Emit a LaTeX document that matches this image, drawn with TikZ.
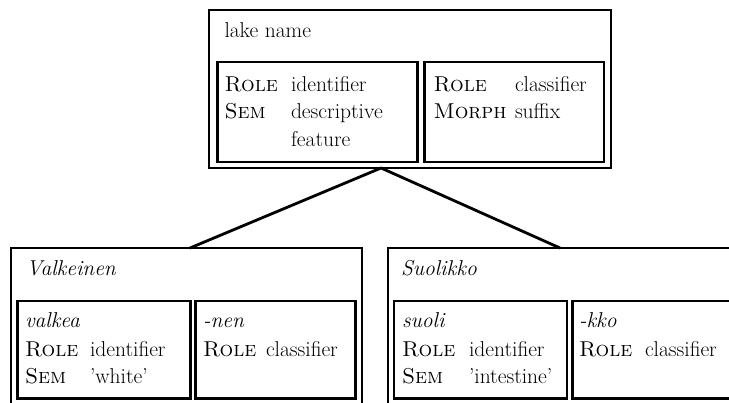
\documentclass[tikz,border=0pt]{standalone}
\usetikzlibrary{calc}
\tikzset{
  frame/.style={draw, line width=2.8pt, rectangle, inner sep=0pt, outer sep=0pt, anchor=north west},
  txt/.style={inner sep=0pt, outer sep=0pt, anchor=base west, font=\fontsize{21.5}{25}\selectfont},
  branch/.style={line width=2.8pt, line cap=round},
}
\begin{document}
\begin{tikzpicture}[x=1pt,y=-1pt]
\useasboundingbox (0,0) rectangle (729,403);
\clip (0,0) rectangle (729,403);

% mother node: lake name
\node[frame, minimum width=402pt, minimum height=158pt] (lake) at (209,10) {};
\node[frame, minimum width=200pt, minimum height=100pt] (lakeid) at (217.5,62) {};
\node[frame, minimum width=179.5pt, minimum height=100pt] (lakecl) at (424.5,62) {};
\node[txt] (t0) at (224.5,38) {lake name};
\node[txt] (t1) at (224.5,92) {\textsc{Role}};
\node[txt] (t2) at (291,92) {identifier};
\node[txt] (t3) at (224.5,119) {\textsc{Sem}};
\node[txt] (t4) at (291,119) {descriptive};
\node[txt] (t5) at (291,146.5) {feature};
\node[txt] (t6) at (433.5,92) {\textsc{Role}};
\node[txt] (t7) at (515,92) {classifier};
\node[txt] (t8) at (433.5,119) {\textsc{Morph}};
\node[txt] (t9) at (515,119) {suffix};

% daughter: Valkeinen (runs on below the page)
\node[frame, minimum width=351pt, minimum height=200pt] (valk) at (11,248) {};
\node[frame, minimum width=173pt, minimum height=97.5pt] (valkid) at (17.5,301) {};
\node[frame, minimum width=160pt, minimum height=97.5pt] (valkcl) at (195.5,301) {};
\node[txt] (v0) at (26.5,276) {\textit{Valkeinen}};
\node[txt] (v1) at (25,328) {\textit{valkea}};
\node[txt] (v2) at (25,356.5) {\textsc{Role}};
\node[txt] (v3) at (90,356.5) {identifier};
\node[txt] (v4) at (25,383.5) {\textsc{Sem}};
\node[txt] (v5) at (90,383.5) {'white'};
\node[txt] (v6) at (203,328) {\textit{-nen}};
\node[txt] (v7) at (203,356.5) {\textsc{Role}};
\node[txt] (v8) at (266,356.5) {classifier};

% daughter: Suolikko (runs on past the right and bottom edges)
\node[frame, minimum width=344pt, minimum height=200pt] (suol) at (388,248) {};
\node[frame, minimum width=173pt, minimum height=97.5pt] (suolid) at (394,301) {};
\node[frame, minimum width=200pt, minimum height=97.5pt] (suolcl) at (572.5,301) {};
\node[txt] (s0) at (401,276) {\textit{Suolikko}};
\node[txt] (s1) at (402,328) {\textit{suoli}};
\node[txt] (s2) at (402,356.5) {\textsc{Role}};
\node[txt] (s3) at (469,356.5) {identifier};
\node[txt] (s4) at (402,383.5) {\textsc{Sem}};
\node[txt] (s5) at (469,383.5) {'intestine'};
\node[txt] (s6) at (579,328) {\textit{-kko}};
\node[txt] (s7) at (579,356.5) {\textsc{Role}};
\node[txt] (s8) at (645,356.5) {classifier};

% branches
\coordinate (apex) at ($(lake.south west)!0.428!(lake.south east)$);
\draw[branch] (apex) -- ($(valk.north west)!0.51!(valk.north east)$);
\draw[branch] (apex) -- (suol.north);
\end{tikzpicture}
\end{document}
